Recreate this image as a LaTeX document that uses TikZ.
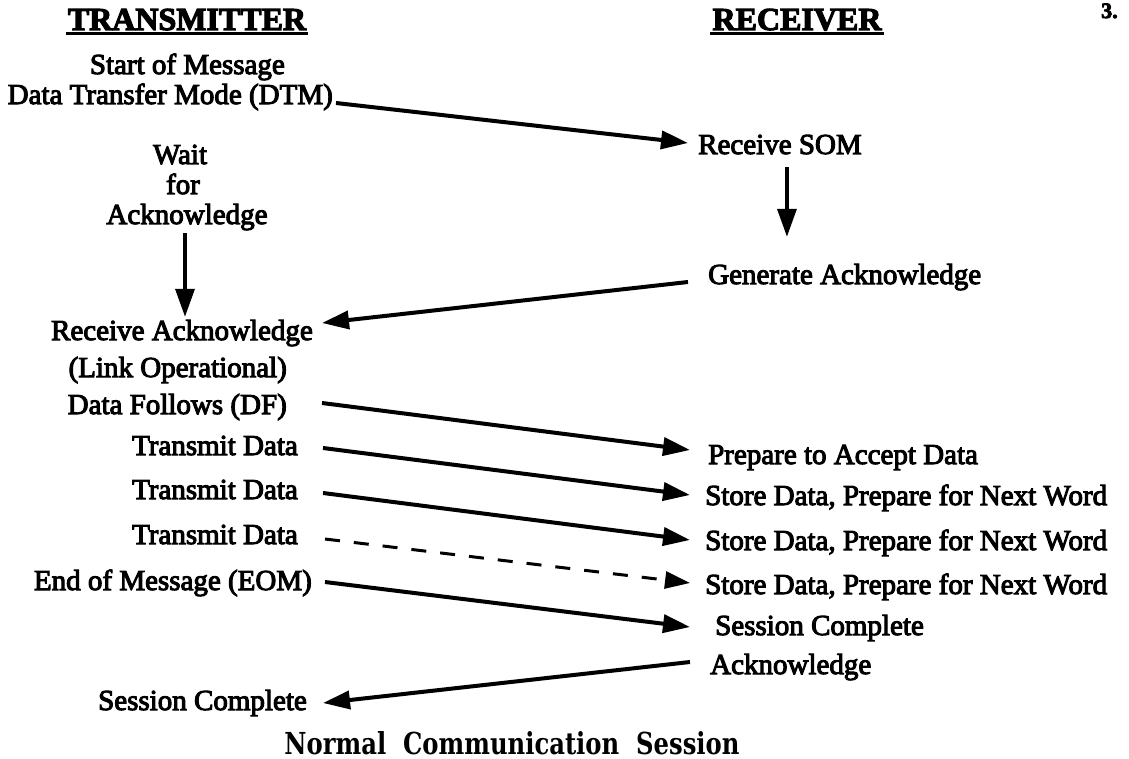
\documentclass[tikz,border=0pt]{standalone}
\usepackage{fontspec}
\setmainfont{Liberation Serif}[FakeBold=3.5]
\newfontfamily\titlefont{DejaVu Serif}
\usetikzlibrary{arrows.meta}
\begin{document}
\begin{tikzpicture}[x=1pt,y=-1pt,
  txt/.style={inner sep=0pt, font=\fontsize{29}{34}\selectfont, text height=20pt, text depth=6pt},
  hd/.style={inner sep=0pt, font=\fontsize{32}{38}\selectfont\bfseries},
  ul/.style={line width=3pt},
  arr/.style={line width=4pt, -{Triangle[length=27pt,width=18pt]}},
  varr/.style={line width=3.5pt, -{Triangle[length=28pt,width=19pt]}},
  darr/.style={line width=3pt, dash pattern=on 15pt off 14pt, -{Triangle[length=25pt,width=17pt]}}]
\useasboundingbox (0,0) rectangle (1129,759);

% headings
\node[hd, anchor=base] (tx) at (187,30) {TRANSMITTER};
\draw[ul] ([shift={(-2,4)}]tx.base west) -- ([shift={(2,4)}]tx.base east);
\node[hd, anchor=base] (rx) at (797,30) {RECEIVER};
\draw[ul] ([shift={(-2,4)}]rx.base west) -- ([shift={(2,4)}]rx.base east);
\node[inner sep=0pt, anchor=base west, font=\fontsize{22}{24}\selectfont\bfseries] (pg) at (1101,18) {3.};

% transmitter column
\node[txt, anchor=east] (som)  at (285,67)  {Start of Message};
\node[txt, anchor=east] (dtm)  at (333,97)  {Data Transfer Mode (DTM)};
\node[txt] (wait) at (180,157) {Wait};
\node[txt] (for)  at (183,187) {for};
\node[txt] (ackw) at (187,217) {Acknowledge};
\node[txt, anchor=east] (rack) at (313,333) {Receive Acknowledge};
\node[txt, anchor=east] (link) at (287,370) {(Link Operational)};
\node[txt, anchor=east] (df)   at (287,407) {Data Follows (DF)};
\node[txt, anchor=east] (t1)   at (298,448) {Transmit Data};
\node[txt, anchor=east] (t2)   at (298,492) {Transmit Data};
\node[txt, anchor=east] (t3)   at (298,537) {Transmit Data};
\node[txt, anchor=east] (eom)  at (312,583) {End of Message (EOM)};
\node[txt, anchor=east] (sc1)  at (307,703) {Session Complete};

% receiver column
\node[txt, anchor=west] (rsom) at (698,147) {Receive SOM};
\node[txt, anchor=west] (gen)  at (708,277) {Generate Acknowledge};
\node[txt, anchor=west] (prep) at (708,457) {Prepare to Accept Data};
\node[txt, anchor=west] (sd1)  at (705,498) {Store Data, Prepare for Next Word};
\node[txt, anchor=west] (sd2)  at (705,543) {Store Data, Prepare for Next Word};
\node[txt, anchor=west] (sd3)  at (705,587) {Store Data, Prepare for Next Word};
\node[txt, anchor=west] (sc2)  at (715,628) {Session Complete};
\node[txt, anchor=west] (ack2) at (710,667) {Acknowledge};

% caption
\node[inner sep=0pt, anchor=base] (title) at (512,754)
  {\resizebox{455pt}{23pt}{\titlefont\bfseries Normal\ \ Communication\ \ Session}};

% connectors
\draw[arr] ([shift={(3,6)}]dtm.east) -- ([shift={(-10,-4)}]rsom.west);
\coordinate (a1) at ([shift={(-2,3)}]ackw.south);
\draw[varr, shorten >=3pt] (a1) -- (a1 |- rack.north);
\coordinate (r1) at ([shift={(7,7)}]rsom.south);
\draw[varr, shorten >=27pt] (r1) -- (r1 |- gen.north);
\draw[arr] ([shift={(-20,5)}]gen.west) -- ([shift={(9,-10)}]rack.east);
\draw[arr] ([shift={(35,-4)}]df.east) -- ([shift={(-18,-7)}]prep.west);
\draw[arr] ([shift={(25,0)}]t1.east) -- ([shift={(-15,-3)}]sd1.west);
\draw[arr] ([shift={(25,1)}]t2.east) -- ([shift={(-15,-3)}]sd2.west);
\draw[darr] ([shift={(27,2)}]t3.east) -- ([shift={(-15,-4)}]sd3.west);
\draw[arr] ([shift={(13,-1)}]eom.east) -- ([shift={(-25,-1)}]sc2.west);
\draw[arr] ([shift={(-20,-5)}]ack2.west) -- ([shift={(16,0)}]sc1.east);
\end{tikzpicture}
\end{document}
